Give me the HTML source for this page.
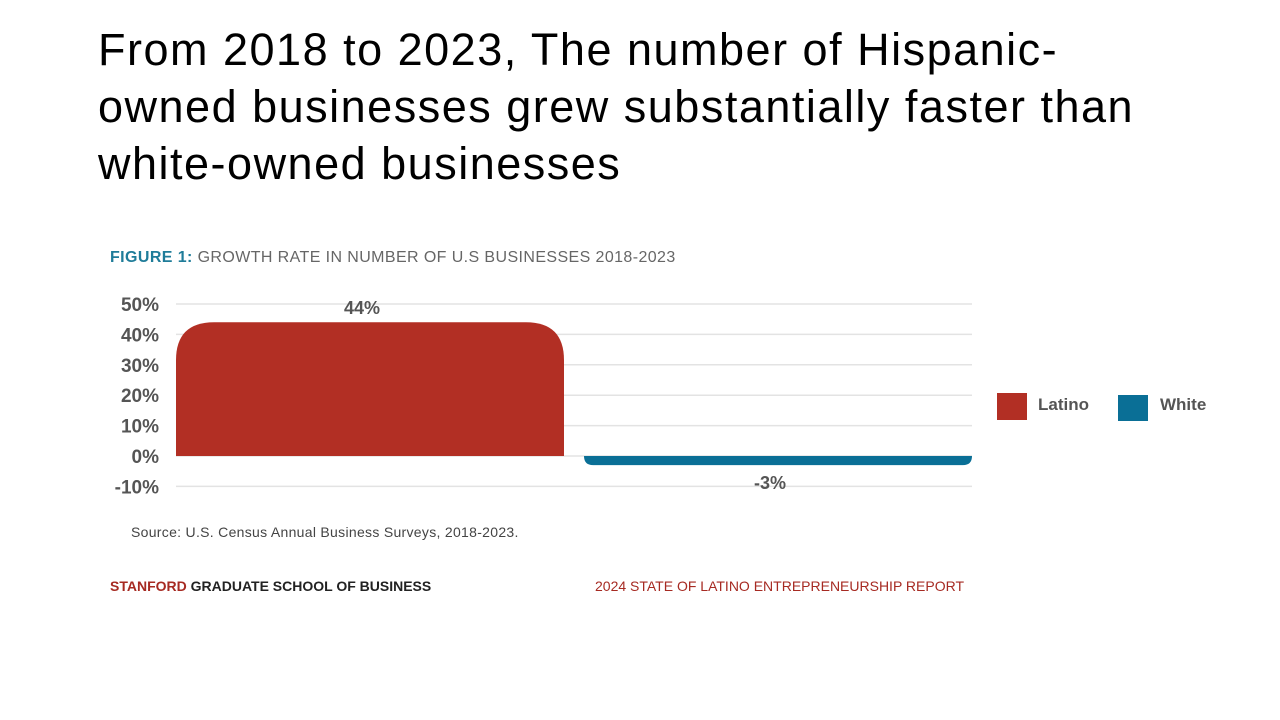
<!DOCTYPE html>
<html><head><meta charset="utf-8"><style>
body{margin:0;width:1280px;height:720px;background:#fff;overflow:hidden;font-family:"Liberation Sans",sans-serif;position:relative}
.t{position:absolute;left:98px;top:21px;font-size:45px;letter-spacing:1.5px;line-height:57px;color:#000;margin:0;font-weight:normal;white-space:nowrap}
</style></head><body>
<h1 class="t">From 2018 to 2023, The number of Hispanic-<br>owned businesses grew substantially faster than<br>white-owned businesses</h1>
<svg width="1280" height="720" style="position:absolute;left:0;top:0">
<text x="110" y="262" font-size="16" letter-spacing="0.4" fill="#666"><tspan fill="#1f7c99" font-weight="bold">FIGURE 1:</tspan> GROWTH RATE IN NUMBER OF U.S BUSINESSES 2018-2023</text>
<g id="grid"></g><g id="bars"></g>
<rect x="997" y="393" width="30" height="27" fill="#b22f24"/>
<text x="1038" y="410" font-size="17" font-weight="bold" fill="#555">Latino</text>
<rect x="1118" y="395" width="30" height="26" fill="#0a6f96"/>
<text x="1160" y="410" font-size="17" font-weight="bold" fill="#555">White</text>
<text x="131" y="537" font-size="14" letter-spacing="0.3" fill="#444">Source: U.S. Census Annual Business Surveys, 2018-2023.</text>
<text x="110" y="591" font-size="14" font-weight="bold" fill="#a62a22">STANFORD <tspan fill="#222">GRADUATE SCHOOL OF BUSINESS</tspan></text>
<text x="595" y="591" font-size="14" fill="#a62a22">2024 STATE OF LATINO ENTREPRENEURSHIP REPORT</text>
</svg>
<script>
const ticks=[50,40,30,20,10,0,-10];
const cats=["Latino","White"];
const vals=[44,-3];
const labels=["44%","-3%"];
const colors=["#b22f24","#0a6f96"];
const y=v=>456-v*3.04;
const ns="http://www.w3.org/2000/svg";
const g=document.getElementById('grid'),b=document.getElementById('bars');
ticks.forEach(t=>{
 const l=document.createElementNS(ns,'line');
 l.setAttribute('x1',176);l.setAttribute('x2',972);l.setAttribute('y1',y(t));l.setAttribute('y2',y(t));
 l.setAttribute('stroke','#e3e3e3');l.setAttribute('stroke-width',1.5);
 
 
 g.appendChild(l);
 const tx=document.createElementNS(ns,'text');
 tx.setAttribute('x',159);tx.setAttribute('y',y(t)+7);tx.setAttribute('text-anchor','end');
 tx.setAttribute('font-size',19);tx.setAttribute('font-weight','bold');tx.setAttribute('fill','#555');
 tx.textContent=t+'%';
 
 
 g.appendChild(tx);
});
vals.forEach((v,i)=>{
 const x0=176+i*408,w=388,y0=y(0),y1=y(v),r=Math.min(38,Math.abs(y1-y0));
 let d;
 if(v>=0) d=`M${x0},${y0}V${y1+r}Q${x0},${y1} ${x0+r},${y1}H${x0+w-r}Q${x0+w},${y1} ${x0+w},${y1+r}V${y0}Z`;
 else d=`M${x0},${y0}V${y1-r}Q${x0},${y1} ${x0+r},${y1}H${x0+w-r}Q${x0+w},${y1} ${x0+w},${y1-r}V${y0}Z`;
 const p=document.createElementNS(ns,'path');
 p.setAttribute('d',d);p.setAttribute('fill',colors[i]);
 
 
 b.appendChild(p);
 const t=document.createElementNS(ns,'text');
 t.setAttribute('x',x0+w/2-8);t.setAttribute('y',v>=0?y1-8:y1+24);t.setAttribute('text-anchor','middle');
 t.setAttribute('font-size',18);t.setAttribute('font-weight','bold');t.setAttribute('fill','#555');
 t.textContent=labels[i];
 
 
 b.appendChild(t);
});
</script>
</body></html>
